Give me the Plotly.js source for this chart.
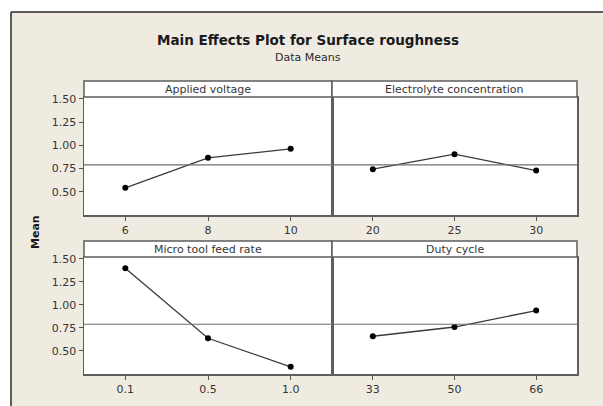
<!DOCTYPE html>
<html>
<head>
<meta charset="utf-8">
<script src="https://cdn.plot.ly/plotly-3.0.1.min.js"></script>
<style>html,body{margin:0;padding:0;background:#fff;}#chart{width:603px;height:406px;}</style>
</head>
<body>
<div id="chart"></div>
<script>
// ---- data ----
const voltageLevels = ['6', '8', '10'];
const voltageMeans = [0.543, 0.865, 0.962];
const electrolyteLevels = ['20', '25', '30'];
const electrolyteMeans = [0.743, 0.905, 0.728];
const feedLevels = ['0.1', '0.5', '1.0'];
const feedMeans = [1.398, 0.638, 0.328];
const dutyLevels = ['33', '50', '66'];
const dutyMeans = [0.660, 0.760, 0.939];
const panelTitles = ['Applied voltage', 'Electrolyte concentration', 'Micro tool feed rate', 'Duty cycle'];
const grandMean = 0.79;
const yTicks = [0.50, 0.75, 1.00, 1.25, 1.50];
const yTickText = ['0.50', '0.75', '1.00', '1.25', '1.50'];

// ---- layout geometry (pixels) ----
const W = 603, H = 406;
const px = v => v / W, py = v => 1 - v / H;
const colX = [[84, 332], [332, 577]];
const rowData = [[97, 215], [257, 374]];
const rowStrip = [[81, 97], [241, 257]];

const panels = [
  {lv: voltageLevels, mv: voltageMeans, r: 0, c: 0},
  {lv: electrolyteLevels, mv: electrolyteMeans, r: 0, c: 1},
  {lv: feedLevels, mv: feedMeans, r: 1, c: 0},
  {lv: dutyLevels, mv: dutyMeans, r: 1, c: 1}
];

const tickFont = {family: 'DejaVu Sans', size: 11, color: '#363636'};
const data = [];
const layout = {
  width: W, height: H,
  margin: {l: 0, r: 0, t: 0, b: 0},
  paper_bgcolor: '#efebe1',
  plot_bgcolor: '#ffffff',
  showlegend: false,
  title: {
    text: '<b>Main Effects Plot for Surface roughness</b>',
    font: {family: 'DejaVu Sans', size: 13.5, color: '#1a1a1a'},
    x: px(308), xref: 'paper', xanchor: 'center',
    y: py(40), yref: 'paper', yanchor: 'middle'
  },
  shapes: [
    // white margin outside the graph frame
    {type: 'rect', xref: 'paper', yref: 'paper', layer: 'below',
     x0: 0, x1: 1, y0: py(12), y1: 1, fillcolor: '#ffffff', line: {width: 0}},
    {type: 'rect', xref: 'paper', yref: 'paper', layer: 'below',
     x0: 0, x1: px(11), y0: 0, y1: 1, fillcolor: '#ffffff', line: {width: 0}},
    // frame edges
    {type: 'line', xref: 'paper', yref: 'paper', layer: 'below',
     x0: px(11), x1: 1, y0: py(12), y1: py(12), line: {color: '#2a2a2a', width: 1.5}},
    {type: 'line', xref: 'paper', yref: 'paper', layer: 'below',
     x0: px(11), x1: px(11), y0: 0, y1: py(12), line: {color: '#2a2a2a', width: 1.5}}
  ],
  annotations: [
    {text: 'Data Means', xref: 'paper', yref: 'paper', x: px(308), y: py(58),
     xanchor: 'center', yanchor: 'middle', showarrow: false,
     font: {family: 'DejaVu Sans', size: 11, color: '#2a2a2a'}},
    {text: '<b>Mean</b>', xref: 'paper', yref: 'paper', x: px(35), y: py(232),
     xanchor: 'center', yanchor: 'middle', showarrow: false, textangle: -90,
     font: {family: 'DejaVu Sans', size: 11, color: '#1a1a1a'}}
  ]
};

panels.forEach((p, i) => {
  const n = i + 1;
  const xa = 'xaxis' + (n === 1 ? '' : n), ya = 'yaxis' + (n === 1 ? '' : n);
  const xr = 'x' + (n === 1 ? '' : n), yr = 'y' + (n === 1 ? '' : n);
  const cx = colX[p.c], ry = rowData[p.r], sy = rowStrip[p.r];
  layout[xa] = {
    domain: [px(cx[0]), px(cx[1])], anchor: yr, type: 'category',
    range: [-0.5, 2.5], showgrid: false, zeroline: false,
    showline: true, mirror: true, linecolor: '#5e5e5e', linewidth: 1.5,
    ticks: 'outside', ticklen: 4, tickcolor: '#555', tickwidth: 1,
    tickfont: tickFont, fixedrange: true
  };
  layout[ya] = {
    domain: [py(ry[1]), py(ry[0])], anchor: xr,
    range: [0.25, 1.52], showgrid: false, zeroline: false,
    showline: true, mirror: true, linecolor: '#5e5e5e', linewidth: 1.5,
    tickvals: yTicks, ticktext: yTickText,
    ticks: p.c === 0 ? 'outside' : '', ticklen: 4, tickcolor: '#555', tickwidth: 1,
    showticklabels: p.c === 0, tickfont: tickFont, fixedrange: true
  };
  data.push({
    type: 'scatter', mode: 'lines+markers', x: p.lv, y: p.mv,
    xaxis: xr, yaxis: yr,
    line: {color: '#3a3a3a', width: 1.3},
    marker: {color: '#000', size: 6},
    hoverinfo: 'skip'
  });
  // grand mean reference line
  layout.shapes.push({
    type: 'line', xref: xr + ' domain', yref: yr, x0: 0, x1: 1,
    y0: grandMean, y1: grandMean, line: {color: '#6e6e6e', width: 1.2}
  });
  // strip
  layout.shapes.push({
    type: 'rect', xref: 'paper', yref: 'paper',
    x0: px(cx[0]), x1: px(cx[1]), y0: py(sy[1]), y1: py(sy[0]),
    fillcolor: '#ffffff', line: {color: '#5e5e5e', width: 1.5}
  });
  layout.annotations.push({
    text: panelTitles[i], xref: 'paper', yref: 'paper',
    x: px((cx[0] + cx[1]) / 2), y: py((sy[0] + sy[1]) / 2 + 0.5),
    xanchor: 'center', yanchor: 'middle', showarrow: false,
    font: {family: 'DejaVu Sans', size: 11, color: '#363636'}
  });
});

Plotly.newPlot('chart', data, layout, {displayModeBar: false, staticPlot: true});
</script>
</body>
</html>
